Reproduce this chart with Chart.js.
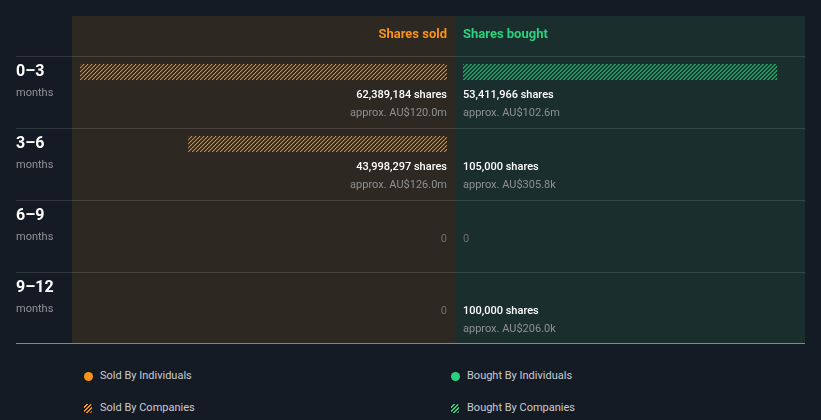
<!DOCTYPE html>
<html>
<head>
<meta charset="utf-8">
<script src="https://cdn.jsdelivr.net/npm/chart.js@4/dist/chart.umd.min.js"></script>
<style>
  html, body { margin: 0; padding: 0; background: #151b24; }
  body { width: 821px; height: 420px; position: relative; overflow: hidden; font-family: Roboto, sans-serif; }
  #soldBox { position: absolute; left: 0; top: 0; width: 455px; height: 350px; }
  #boughtBox { position: absolute; left: 455px; top: 0; width: 366px; height: 350px; }
  .legend { position: absolute; font-size: 11px; color: #c9ccd0; line-height: 14px; white-space: nowrap; }
  .legend i { position: absolute; left: -16px; top: 3px; width: 9px; height: 9px; border-radius: 50%; }
  .legend i.hatch { border-radius: 2px; width: 8px; height: 9px; }
</style>
</head>
<body>
<div id="soldBox"><canvas id="soldChart"></canvas></div>
<div id="boughtBox"><canvas id="boughtChart"></canvas></div>

<div class="legend" style="left:100px;top:369px"><i style="background:#f7931a"></i>Sold By Individuals</div>
<div class="legend" style="left:100px;top:401px"><i class="hatch" style="background:repeating-linear-gradient(-45deg,#f7931a 0 1.5px,#151b24 1.5px 3px)"></i>Sold By Companies</div>
<div class="legend" style="left:467px;top:369px"><i style="background:#2bd17d"></i>Bought By Individuals</div>
<div class="legend" style="left:467px;top:401px"><i class="hatch" style="background:repeating-linear-gradient(-45deg,#2bd17d 0 1.5px,#151b24 1.5px 3px)"></i>Bought By Companies</div>

<script>
// periods (rows)
const periods = ['0–3', '3–6', '6–9', '9–12'];
const periodUnit = 'months';

// shares traded per period
const soldByIndividuals = [0, 0, 0, 0];
const soldByCompanies = [62389184, 43998297, 0, 0];
const boughtByIndividuals = [0, 0, 0, 0];
const boughtByCompanies = [53411966, 105000, 0, 100000];

// approx. value in AU$ per period
const soldValue = [120.0e6, 126.0e6, 0, 0];
const boughtValue = [102.6e6, 305.8e3, 0, 206.0e3];

const ORANGE = '#f7931a';
const GREEN = '#2bd17d';

function hatch(color, thick, soft) {
  const c = document.createElement('canvas');
  c.width = 4; c.height = 4;
  const g = c.getContext('2d');
  for (let i = 0; i < 4; i++) {
    g.fillStyle = color;
    g.fillRect(3 - i, i, 1, 1);
    if (thick > 1) g.fillRect((4 - i) % 4, i, 1, 1);
    if (soft) {
      g.fillStyle = soft;
      g.fillRect((4 - i) % 4, i, 1, 1);
    }
  }
  return g.createPattern(c, 'repeat');
}

function fmtValue(v) {
  if (v >= 1e6) return 'approx. AU$' + (v / 1e6).toFixed(1) + 'm';
  return 'approx. AU$' + (v / 1e3).toFixed(1) + 'k';
}

const totals = (a, b) => a.map((v, i) => v + b[i]);
const soldTotal = totals(soldByIndividuals, soldByCompanies);
const boughtTotal = totals(boughtByIndividuals, boughtByCompanies);
const maxShares = Math.max(...soldTotal, ...boughtTotal);

// draws panel background, row lines and the texts for one side
function sidePanel(side) {
  return {
    id: 'panel_' + side,
    beforeDraw(chart) {
      const ctx = chart.ctx;
      const y = chart.scales.y;
      const W = chart.width;
      const panelX = side === 'sold' ? 72 : 0;
      const panelW = side === 'sold' ? W - 72 : 350;
      ctx.save();
      ctx.fillStyle = side === 'sold' ? '#2d2822' : '#1a2e2d';
      ctx.fillRect(panelX, 16, panelW, 327);
      const lineStart = side === 'sold' ? 16 : 0;
      const lineEnd = side === 'sold' ? W : 350;
      ctx.strokeStyle = 'rgba(255,255,255,0.12)';
      ctx.lineWidth = 1;
      periods.forEach((p, i) => {
        const yy = Math.round(y.getPixelForValue(i) - 16) + 0.5;
        ctx.beginPath(); ctx.moveTo(lineStart, yy); ctx.lineTo(lineEnd, yy); ctx.stroke();
      });
      ctx.strokeStyle = 'rgba(220,225,230,0.55)';
      ctx.beginPath(); ctx.moveTo(lineStart, 343.5); ctx.lineTo(lineEnd, 343.5); ctx.stroke();
      ctx.restore();
    },
    afterDraw(chart) {
      const ctx = chart.ctx;
      const y = chart.scales.y;
      const area = chart.chartArea;
      const isSold = side === 'sold';
      const tx = isSold ? area.right : area.left;
      const tot = isSold ? soldTotal : boughtTotal;
      const val = isSold ? soldValue : boughtValue;
      ctx.save();
      ctx.textAlign = isSold ? 'right' : 'left';
      ctx.textBaseline = 'middle';
      ctx.font = 'bold 13px Roboto';
      ctx.fillStyle = isSold ? ORANGE : GREEN;
      ctx.fillText(isSold ? 'Shares sold' : 'Shares bought', tx, 35);
      periods.forEach((p, i) => {
        const cy = y.getPixelForValue(i);
        if (tot[i] === 0) {
          ctx.font = '11px Roboto';
          ctx.fillStyle = '#6f7173';
          ctx.fillText('0', tx, cy + 23);
        } else {
          ctx.font = '500 11px Roboto';
          ctx.fillStyle = '#ffffff';
          ctx.fillText(tot[i].toLocaleString('en-US') + ' shares', tx, cy + 23);
          ctx.font = '11px Roboto';
          ctx.fillStyle = '#8e9193';
          ctx.fillText(fmtValue(val[i]), tx, cy + 41);
        }
        if (isSold) {
          ctx.textAlign = 'left';
          ctx.font = 'bold 16px Roboto';
          ctx.fillStyle = '#ffffff';
          ctx.fillText(p, 16, cy);
          ctx.font = '11px Roboto';
          ctx.fillStyle = '#8e9399';
          ctx.fillText(periodUnit, 16, cy + 21);
          ctx.textAlign = 'right';
        }
      });
      ctx.restore();
    }
  };
}

// bars thinner than a pixel are not painted
function fillFor(paint) {
  return (c) => {
    const x = c.chart.scales.x;
    const v = c.raw || 0;
    return Math.abs(x.getPixelForValue(v) - x.getPixelForValue(0)) < 1.5 ? 'rgba(0,0,0,0)' : paint;
  };
}

function makeChart(id, side, indiv, comp, color, pattern, padding, xMax) {
  return new Chart(document.getElementById(id), {
    type: 'bar',
    data: {
      labels: periods,
      datasets: [
        { label: side === 'sold' ? 'Sold By Individuals' : 'Bought By Individuals', data: indiv, backgroundColor: fillFor(color) },
        { label: side === 'sold' ? 'Sold By Companies' : 'Bought By Companies', data: comp, backgroundColor: fillFor(pattern) }
      ]
    },
    options: {
      indexAxis: 'y',
      responsive: true,
      maintainAspectRatio: false,
      animation: false,
      layout: { padding: padding },
      datasets: { bar: { barThickness: 16, inflateAmount: 0, borderWidth: 0 } },
      plugins: { legend: { display: false }, tooltip: { enabled: false } },
      scales: {
        x: { display: false, stacked: true, min: 0, max: xMax, reverse: side === 'sold' },
        y: { display: false, stacked: true }
      }
    },
    plugins: [sidePanel(side)]
  });
}

const soldArea = 455 - 80 - 8;
const boughtArea = 366 - 8 - 16;
makeChart('soldChart', 'sold', soldByIndividuals, soldByCompanies, ORANGE, hatch('#ff8a00', 1, 'rgba(255,138,0,0.3)'),
  { left: 80, right: 8, top: 36, bottom: 26 }, maxShares);
makeChart('boughtChart', 'bought', boughtByIndividuals, boughtByCompanies, GREEN, hatch('#1f9e64', 2),
  { left: 8, right: 16, top: 36, bottom: 26 }, maxShares * boughtArea / soldArea);
</script>
</body>
</html>
